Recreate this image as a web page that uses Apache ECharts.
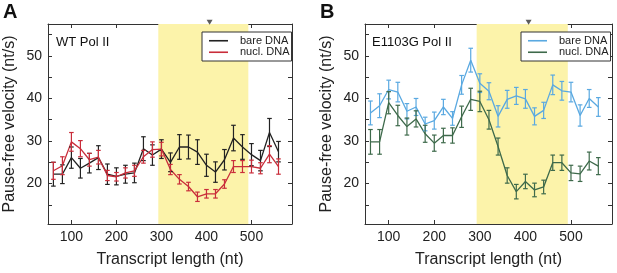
<!DOCTYPE html>
<html>
<head>
<meta charset="utf-8">
<script src="https://cdn.jsdelivr.net/npm/echarts@6/dist/echarts.min.js"></script>
<style>
  html, body { margin: 0; padding: 0; background: #fff; }
  #chart { width: 617px; height: 273px; }
</style>
</head>
<body>
<div id="chart"></div>
<script>
const transcriptLen = [60, 80, 100, 120, 140, 160, 180, 200, 220, 240, 260, 280, 300,
  320, 340, 360, 380, 400, 420, 440, 460, 480, 500, 520, 540, 560];

// panel A: WT Pol II
const wtBare = [22.2, 22.2, 26.1, 23.6, 24.8, 26.1, 22.2, 21.7, 22.2, 22.5, 28.2, 26.7, 28.1,
  25.0, 28.6, 28.6, 27.4, 24.3, 22.7, 25.6, 30.7, 28.6, 26.8, 25.4, 32.0, 27.5];
const wtBareErr = [2.8, 2.2, 2.5, 2.3, 2.3, 2.8, 2.4, 2.0, 2.1, 2.3, 2.8, 2.4, 2.2,
  2.2, 2.9, 2.8, 2.9, 2.6, 2.4, 2.4, 3.0, 2.9, 2.6, 2.4, 3.3, 2.4];
const wtNucl = [23.0, 24.2, 29.8, 28.2, 25.6, 26.2, 21.9, 21.6, 22.5, 23.0, 26.3, 28.0, 28.1,
  23.3, 21.0, 19.3, 16.9, 17.6, 17.6, 19.9, 24.0, 24.0, 24.0, 23.6, 26.9, 24.0];
const wtNuclErr = [2.0, 2.1, 2.2, 1.9, 1.5, 1.6, 1.2, 1.0, 1.2, 1.3, 1.5, 1.8, 1.6,
  1.2, 1.1, 1.0, 1.1, 1.0, 1.0, 1.0, 1.4, 1.4, 1.5, 1.3, 2.0, 1.8];

// panel B: E1103G Pol II
const mutBare = [36.6, 38.3, 42.1, 41.5, 37.0, 38.0, 34.0, 34.8, 38.0, 35.3, 43.2, 49.0, 43.6,
  41.7, 35.8, 39.8, 40.6, 39.9, 35.8, 37.2, 43.2, 41.8, 41.5, 36.0, 40.0, 38.0];
const mutBareErr = [2.8, 2.8, 2.2, 2.3, 1.8, 2.0, 1.6, 2.0, 1.8, 1.6, 2.2, 2.8, 2.2,
  2.0, 2.5, 2.1, 2.0, 2.2, 2.0, 1.9, 2.3, 2.2, 2.3, 2.5, 2.1, 2.2];
const mutNucl = [29.8, 29.8, 39.0, 36.0, 33.4, 35.2, 31.7, 29.5, 31.3, 31.3, 35.7, 39.8, 39.3,
  35.0, 28.7, 21.9, 18.1, 20.5, 18.5, 19.2, 24.9, 24.9, 22.5, 22.3, 25.3, 24.1];
const mutNuclErr = [2.9, 2.9, 2.6, 2.4, 2.0, 1.9, 2.0, 1.9, 1.7, 1.8, 2.5, 2.6, 2.4,
  2.2, 2.0, 1.8, 1.7, 1.7, 1.6, 1.6, 1.8, 1.8, 1.8, 1.8, 2.1, 2.0];

const nucleosomeRegion = [293, 493];
const arrowPos = [407, 57.9];
const xTicks = [100, 200, 300, 400, 500];
const yTicks = [15, 20, 25, 30, 35, 40, 45, 50, 55];
const yLabels = [20, 30, 40, 50];

const FONT = "'Liberation Sans', Arial, sans-serif";
const AXIS_COLOR = "#333";

const chart = echarts.init(document.getElementById("chart"));

function xAxisFor(grid, pos) {
  const bottom = pos === "bottom";
  return {
    type: "value", gridIndex: grid, position: pos, min: 48, max: 590,
    name: bottom ? "Transcript length (nt)" : "",
    nameLocation: "middle", nameGap: 28,
    nameTextStyle: { fontSize: 16, color: "#222", fontFamily: FONT },
    axisLine: { show: true, onZero: false, lineStyle: { color: AXIS_COLOR, width: 1 } },
    axisTick: { show: true, inside: true, length: 4, customValues: xTicks,
      lineStyle: { color: AXIS_COLOR } },
    axisLabel: { show: bottom, customValues: xTicks, margin: 6, fontSize: 14,
      color: "#222", fontFamily: FONT },
    splitLine: { show: false },
  };
}

function yAxisFor(grid, pos) {
  const left = pos === "left";
  return {
    type: "value", gridIndex: grid, position: pos, min: 10.5, max: 57.5,
    name: left ? "Pause-free velocity (nt/s)" : "",
    nameLocation: "middle", nameGap: 30,
    nameTextStyle: { fontSize: 16, color: "#222", fontFamily: FONT },
    axisLine: { show: true, onZero: false, lineStyle: { color: AXIS_COLOR, width: 1 } },
    axisTick: { show: true, inside: true, length: 4, customValues: yTicks,
      lineStyle: { color: AXIS_COLOR } },
    axisLabel: { show: left, customValues: yLabels, margin: 6, fontSize: 14,
      color: "#222", fontFamily: FONT },
    splitLine: { show: false },
  };
}

function lineSeries(name, data, color, axis) {
  return {
    name, type: "line", xAxisIndex: axis, yAxisIndex: axis,
    data: transcriptLen.map((x, i) => [x, data[i]]),
    showSymbol: false, symbol: "none", z: 3,
    lineStyle: { color, width: 1.3 }, itemStyle: { color },
  };
}

function errorSeries(data, err, color, axis) {
  return {
    type: "custom", xAxisIndex: axis, yAxisIndex: axis, z: 4, silent: true,
    data: transcriptLen.map((x, i) => [x, data[i], err[i]]),
    encode: { x: 0, y: 1 },
    renderItem: (params, api) => {
      const x = api.value(0), y = api.value(1), e = api.value(2);
      const hi = api.coord([x, y + e]);
      const lo = api.coord([x, y - e]);
      const hw = 2.3;
      const st = { stroke: color, lineWidth: 1.2 };
      return {
        type: "group",
        children: [
          { type: "line", shape: { x1: hi[0], y1: hi[1], x2: lo[0], y2: lo[1] }, style: st },
          { type: "line", shape: { x1: hi[0] - hw, y1: hi[1], x2: hi[0] + hw, y2: hi[1] }, style: st },
          { type: "line", shape: { x1: lo[0] - hw, y1: lo[1], x2: lo[0] + hw, y2: lo[1] }, style: st },
        ],
      };
    },
  };
}

function bandSeries(axis) {
  return {
    type: "line", xAxisIndex: axis, yAxisIndex: axis, data: [], z: 1, silent: true,
    markArea: {
      silent: true,
      itemStyle: { color: "#fcf3aa" },
      data: [[{ xAxis: nucleosomeRegion[0] }, { xAxis: nucleosomeRegion[1] }]],
    },
  };
}

function arrowSeries(axis) {
  return {
    type: "scatter", xAxisIndex: axis, yAxisIndex: axis, clip: false, silent: true,
    data: [arrowPos], symbol: "triangle", symbolRotate: 180, symbolSize: [6, 5],
    itemStyle: { color: "#333" }, z: 5,
  };
}

function legendFor(left, names) {
  return {
    left, top: 32, orient: "vertical", data: names,
    borderColor: AXIS_COLOR, borderWidth: 1, backgroundColor: "#fff",
    padding: [3, 2, 3, 7], itemGap: 0, itemWidth: 19, itemHeight: 1.6,
    icon: "rect", selectedMode: false,
    formatter: (n) => n.replace(/^B /, ""),
    textStyle: { fontSize: 11, color: "#222", fontFamily: FONT, lineHeight: 11.5,
      padding: [0, 0, 0, 7] },
  };
}

const labelStyle = (text, x, y, size, weight) => ({
  type: "text", left: x, top: y,
  style: { text, fontSize: size, fontWeight: weight, fill: "#111", fontFamily: FONT },
});

chart.setOption({
  animation: false,
  textStyle: { fontFamily: FONT },
  grid: [
    { left: 48, top: 24, width: 244, height: 203 },
    { left: 365, top: 24, width: 247, height: 203 },
  ],
  xAxis: [xAxisFor(0, "bottom"), xAxisFor(1, "bottom"), xAxisFor(0, "top"), xAxisFor(1, "top")],
  yAxis: [yAxisFor(0, "left"), yAxisFor(1, "left"), yAxisFor(0, "right"), yAxisFor(1, "right")],
  legend: [
    legendFor(202, ["bare DNA", "nucl. DNA"]),
    legendFor(521, ["B bare DNA", "B nucl. DNA"]),
  ],
  graphic: [
    labelStyle("A", 3, 2, 20, "bold"),
    labelStyle("B", 320, 2, 20, "bold"),
    labelStyle("WT Pol II", 56, 36, 13, "normal"),
    labelStyle("E1103G Pol II", 372, 36, 13, "normal"),
  ],
  series: [
    bandSeries(0),
    bandSeries(1),
    lineSeries("bare DNA", wtBare, "#222222", 0),
    lineSeries("nucl. DNA", wtNucl, "#c92d3a", 0),
    errorSeries(wtBare, wtBareErr, "#222222", 0),
    errorSeries(wtNucl, wtNuclErr, "#c92d3a", 0),
    lineSeries("B bare DNA", mutBare, "#5aa9e1", 1),
    lineSeries("B nucl. DNA", mutNucl, "#3e6a4b", 1),
    errorSeries(mutBare, mutBareErr, "#5aa9e1", 1),
    errorSeries(mutNucl, mutNuclErr, "#3e6a4b", 1),
    arrowSeries(0),
    arrowSeries(1),
  ],
});
</script>
</body>
</html>
